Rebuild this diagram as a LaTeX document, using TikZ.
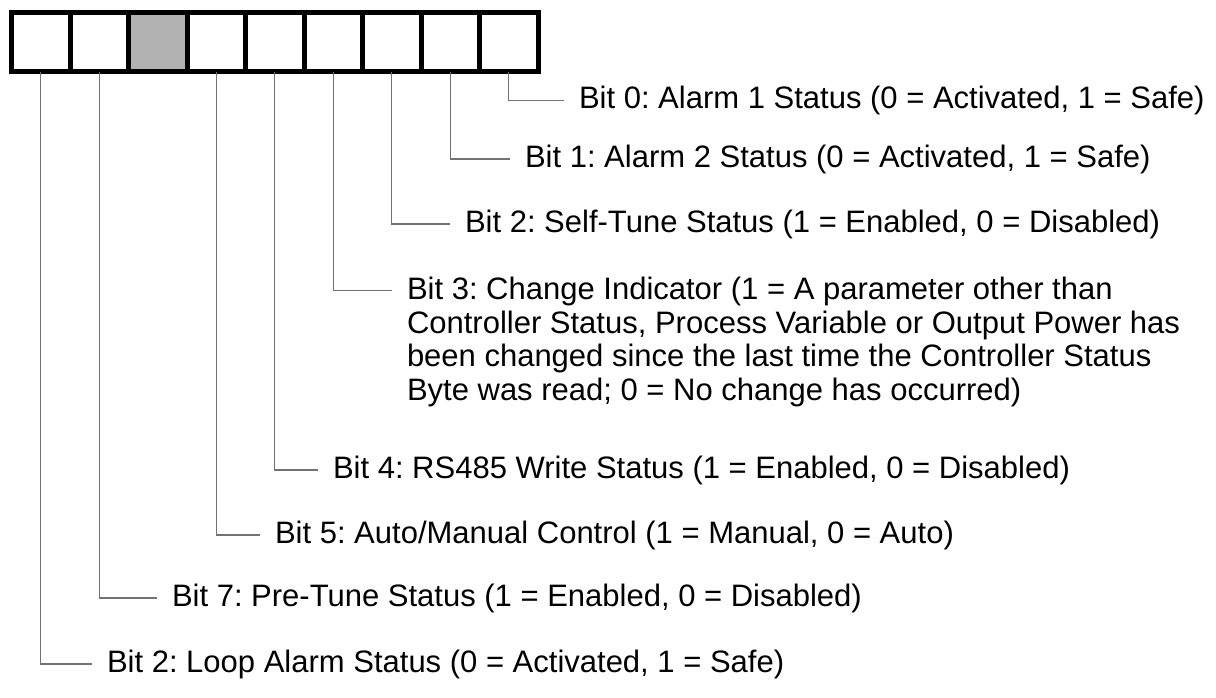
\documentclass[tikz,border=0pt]{standalone}
\usepackage{fontspec}
\setmainfont{Liberation Sans}
\frenchspacing
\begin{document}
\begin{tikzpicture}[x=0.5pt,y=-0.5pt]
  \tikzstyle{every node}+=[inner sep=0pt, outer sep=0pt]
  \tikzstyle{cell}=[draw=black, line width=2.5pt, minimum width=29.25pt, minimum height=29.5pt]
  \tikzstyle{lead}=[draw=black!55, line width=0.6pt]
  \tikzstyle{bitlabel}=[anchor=west, inner xsep=7.5pt, align=left, font=\fontsize{15.5pt}{16.8pt}\selectfont]
  \useasboundingbox (0,0) rectangle (1216,697);
  % status byte
  \node [cell] (b8) at (40.75,42) {};
  \node [cell] (b7) at (99.25,42) {};
  \node [cell, fill=black!30] (b6) at (157.75,42) {};
  \node [cell] (b5) at (216.25,42) {};
  \node [cell] (b4) at (274.75,42) {};
  \node [cell] (b3) at (333.25,42) {};
  \node [cell] (b2) at (391.75,42) {};
  \node [cell] (b1) at (450.25,42) {};
  \node [cell] (b0) at (508.75,42) {};
  % bit labels
  \node [bitlabel] (l0) at (564,100.7) {Bit 0: Alarm 1 Status (0 = Activated, 1 = Safe)};
  \draw [lead] (b0.south) |- (l0.west);
  \node [bitlabel] (l1) at (510,159) {Bit 1: Alarm 2 Status (0 = Activated, 1 = Safe)};
  \draw [lead] (b1.south) |- (l1.west);
  \node [bitlabel] (l2) at (450,224) {Bit 2: Self-Tune Status (1 = Enabled, 0 = Disabled)};
  \draw [lead] (b2.south) |- (l2.west);
  \coordinate (c3) at (392,290.7);
  \node [bitlabel, anchor=north west] (l3) at (392,277) {Bit 3: Change Indicator (1 = A parameter other than\\
    Controller Status, Process Variable or Output Power has\\
    been changed since the last time the Controller Status\\
    Byte was read; 0 = No change has occurred)};
  \draw [lead] (b3.south) |- (c3);
  \node [bitlabel] (l4) at (318,470) {Bit 4: RS485 Write Status (1 = Enabled, 0 = Disabled)};
  \draw [lead] (b4.south) |- (l4.west);
  \node [bitlabel] (l5) at (260,535) {Bit 5: Auto/Manual Control (1 = Manual, 0 = Auto)};
  \draw [lead] (b5.south) |- (l5.west);
  \node [bitlabel] (l7) at (157,598) {Bit 7: Pre-Tune Status (1 = Enabled, 0 = Disabled)};
  \draw [lead] (b7.south) |- (l7.west);
  \node [bitlabel] (l8) at (92,664) {Bit 2: Loop Alarm Status (0 = Activated, 1 = Safe)};
  \draw [lead] (b8.south) |- (l8.west);
\end{tikzpicture}
\end{document}
